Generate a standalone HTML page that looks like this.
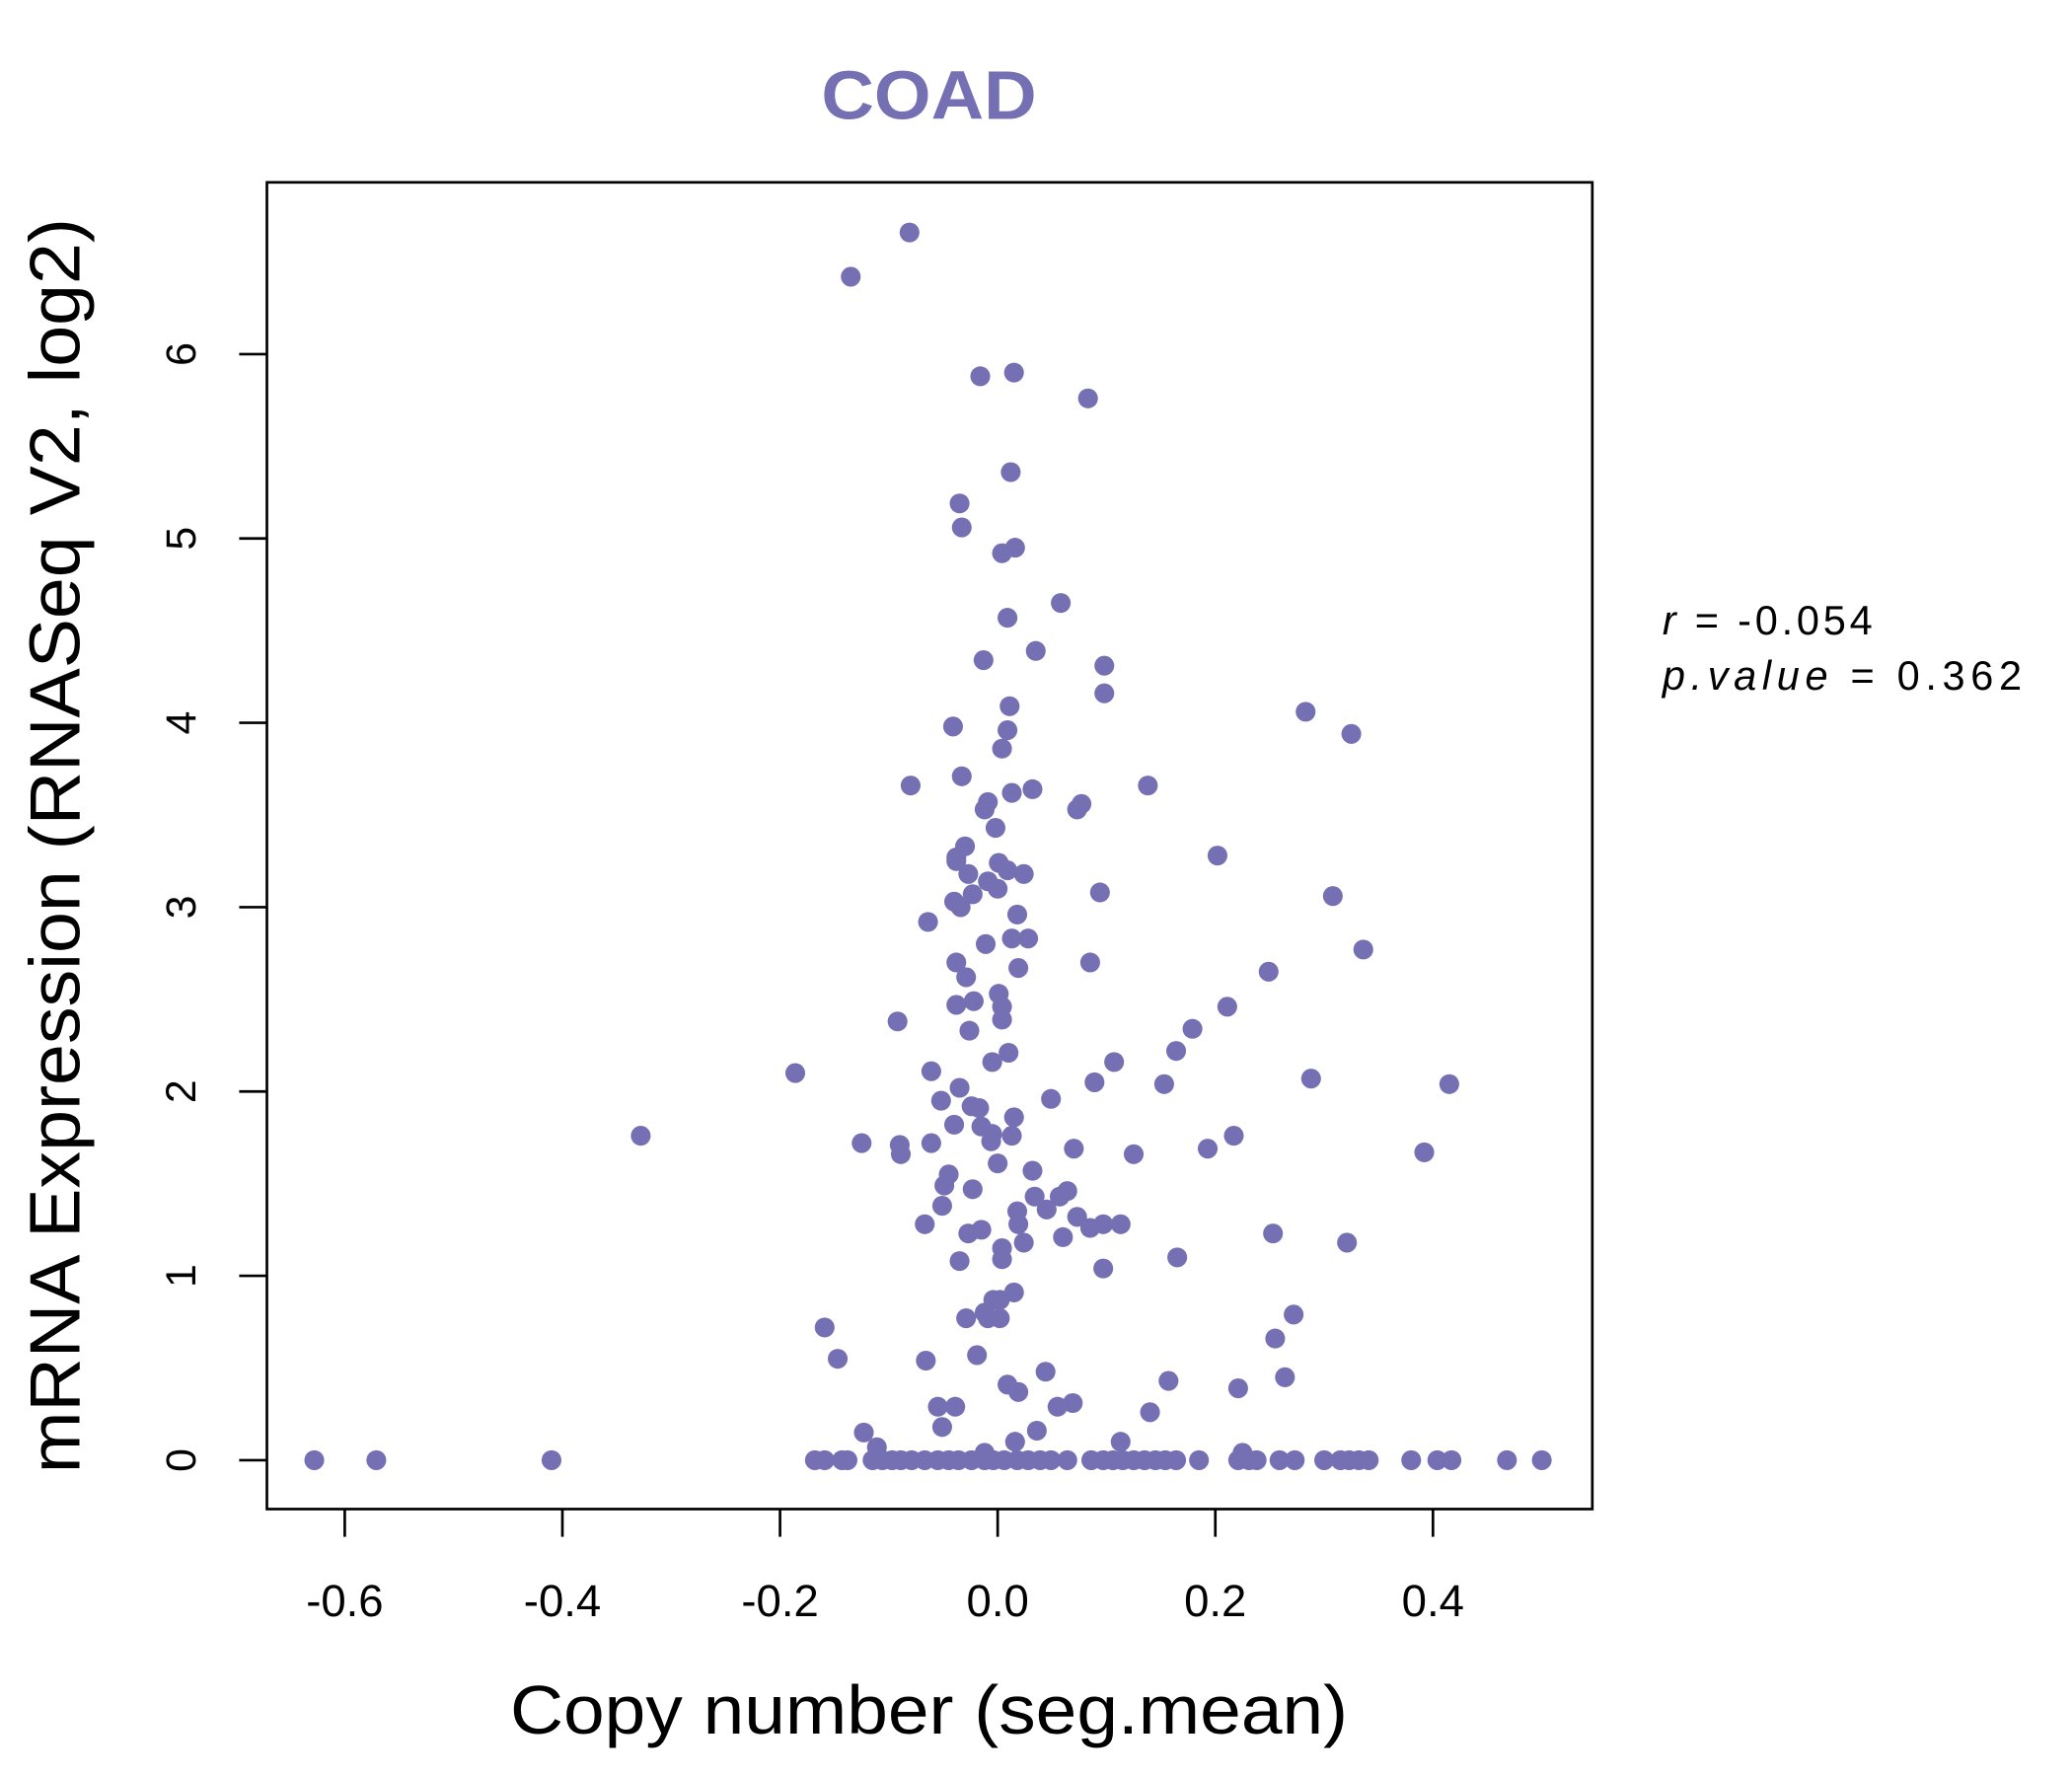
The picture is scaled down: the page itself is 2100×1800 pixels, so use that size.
<!DOCTYPE html>
<html><head><meta charset="utf-8"><style>
html,body{margin:0;padding:0;background:#fff}
svg{display:block}
text{font-family:"Liberation Sans",Arial,sans-serif}
</style></head><body>
<svg id="chart" width="2100" height="1800" viewBox="0 0 1568 1344" preserveAspectRatio="none" xmlns="http://www.w3.org/2000/svg">
<rect x="0" y="0" width="1568" height="1344" fill="#fff"/>
<text x="703" y="90" text-anchor="middle" font-size="52" font-weight="bold" fill="#7570b3" textLength="163" lengthAdjust="spacingAndGlyphs">COAD</text>
<rect x="202" y="138" width="1003" height="1004" fill="none" stroke="#000" stroke-width="2"/>
<g id="xaxis"></g>
<g id="yaxis"></g>
<g id="points"></g>
<text x="703" y="1312" text-anchor="middle" font-size="52" textLength="634" lengthAdjust="spacingAndGlyphs">Copy number (seg.mean)</text>
<text transform="translate(60,640) rotate(-90)" text-anchor="middle" font-size="54" textLength="950" lengthAdjust="spacingAndGlyphs">mRNA Expression (RNASeq V2, log2)</text>
<text x="1258" y="480" font-size="31" textLength="159" lengthAdjust="spacing"><tspan font-style="italic">r</tspan> = -0.054</text>
<text x="1258" y="522" font-size="31" textLength="272" lengthAdjust="spacing"><tspan font-style="italic">p.value</tspan> = 0.362</text>
</svg>
<script>
const xTicks = [-0.6, -0.4, -0.2, 0.0, 0.2, 0.4];
const xTickLabels = ["-0.6", "-0.4", "-0.2", "0.0", "0.2", "0.4"];
const yTicks = [0, 1, 2, 3, 4, 5, 6];
const yTickLabels = ["0", "1", "2", "3", "4", "5", "6"];
const xValues = [-0.081,-0.135,-0.016,0.015,0.083,0.012,-0.035,-0.033,0.004,0.016,0.058,0.009,-0.013,0.035,0.098,0.098,0.283,0.325,0.011,0.009,-0.041,0.004,-0.033,-0.080,0.013,0.032,-0.009,-0.012,0.077,0.073,0.138,-0.002,-0.030,-0.038,-0.038,0.001,-0.027,0.009,0.024,0.202,-0.009,0,-0.023,-0.040,-0.034,0.094,0.308,0.018,-0.064,0.013,0.028,-0.011,0.336,-0.038,0.085,0.019,0.249,-0.029,0.001,-0.022,-0.038,0.004,0.004,-0.092,0.211,-0.026,0.179,0.164,0.010,-0.005,0.107,-0.186,0.288,-0.061,0.415,-0.035,0.089,0.153,0.049,-0.052,-0.024,-0.017,0.015,-0.040,-0.015,-0.005,0.013,-0.328,0.217,-0.125,-0.061,-0.090,-0.089,-0.006,0.070,0.193,0.125,0.392,0,0.032,-0.045,-0.049,-0.023,0.064,0.057,0.034,-0.051,0.045,0.018,0.073,0.019,-0.067,0.097,0.113,0.085,0.253,-0.015,-0.027,0.321,0.024,0.060,0.004,0.004,-0.035,0.165,0.097,0.015,-0.004,0.002,-0.012,0.272,-0.029,-0.009,0.002,-0.159,0.255,-0.019,-0.147,-0.066,0.044,0.264,0.157,0.009,0.221,0.019,0.069,-0.055,-0.039,0.055,0.140,-0.051,0.036,-0.123,0.016,0.113,-0.111,0.225,-0.012,
-0.628,-0.571,-0.410,-0.168,-0.159,-0.143,-0.138,-0.115,-0.106,-0.097,-0.089,-0.079,-0.067,-0.055,-0.045,-0.036,-0.024,-0.012,-0.004,0.006,0.018,0.028,0.039,0.049,0.064,0.086,0.097,0.106,0.115,0.125,0.135,0.145,0.154,0.164,0.185,0.221,0.231,0.238,0.259,0.273,0.300,0.315,0.323,0.332,0.341,0.380,0.404,0.417,0.468,0.500];
const yValues = [6.66,6.42,5.88,5.90,5.76,5.36,5.19,5.06,4.92,4.95,4.65,4.57,4.34,4.39,4.31,4.16,4.06,3.94,4.09,3.96,3.98,3.86,3.71,3.66,3.62,3.64,3.57,3.53,3.56,3.53,3.66,3.43,3.33,3.27,3.25,3.24,3.18,3.20,3.18,3.28,3.14,3.10,3.07,3.03,3.00,3.08,3.06,2.96,2.92,2.83,2.83,2.80,2.77,2.70,2.70,2.67,2.65,2.62,2.53,2.49,2.47,2.46,2.39,2.38,2.46,2.33,2.34,2.22,2.21,2.16,2.16,2.10,2.07,2.11,2.04,2.02,2.05,2.04,1.96,1.95,1.92,1.91,1.86,1.82,1.81,1.77,1.76,1.76,1.76,1.72,1.72,1.71,1.66,1.73,1.69,1.69,1.66,1.67,1.61,1.57,1.55,1.49,1.47,1.46,1.43,1.43,1.38,1.36,1.35,1.32,1.28,1.28,1.28,1.28,1.26,1.23,1.25,1.23,1.18,1.18,1.21,1.15,1.09,1.08,1.10,1.04,0.91,0.87,0.87,0.80,0.79,0.77,0.77,0.77,0.72,0.66,0.57,0.55,0.54,0.48,0.45,0.43,0.41,0.39,0.37,0.31,0.29,0.29,0.29,0.26,0.18,0.16,0.15,0.10,0.10,0.07,0.04,0.04,
0,0,0,0,0,0,0,0,0,0,0,0,0,0,0,0,0,0,0,0,0,0,0,0,0,0,0,0,0,0,0,0,0,0,0,0,0,0,0,0,0,0,0,0,0,0,0,0,0,0];
const NS = "http://www.w3.org/2000/svg";
function xScale(v){ return 755 + v * 823.5; }
function yScale(v){ return 1105 - v * 139.5; }
const xg = document.getElementById('xaxis');
const yg = document.getElementById('yaxis');
const pg = document.getElementById('points');
function mk(tag, attrs, parent){ const e=document.createElementNS(NS,tag); for(const k in attrs) e.setAttribute(k,attrs[k]); parent.appendChild(e); return e; }
xTicks.forEach((t,i)=>{
  const x = xScale(t);
  const l = mk('line',{x1:x,x2:x,y1:1142,y2:1163,stroke:'#000','stroke-width':2},xg);
  
  
  const tx = mk('text',{x:x,y:1223,'text-anchor':'middle','font-size':34},xg);
  tx.textContent = xTickLabels[i];
  
  
});
yTicks.forEach((t,i)=>{
  const y = yScale(t);
  const l = mk('line',{x1:181,x2:202,y1:y,y2:y,stroke:'#000','stroke-width':2},yg);
  
  
  const tx = mk('text',{transform:`translate(148,${y}) rotate(-90)`,'text-anchor':'middle','font-size':32},yg);
  tx.textContent = yTickLabels[i];
  
  
});
xValues.forEach((v,i)=>{
  const c = mk('circle',{cx:xScale(v),cy:yScale(yValues[i]),r:7.5,fill:'#7570b3'},pg);
  
  
});
</script>
</body></html>
